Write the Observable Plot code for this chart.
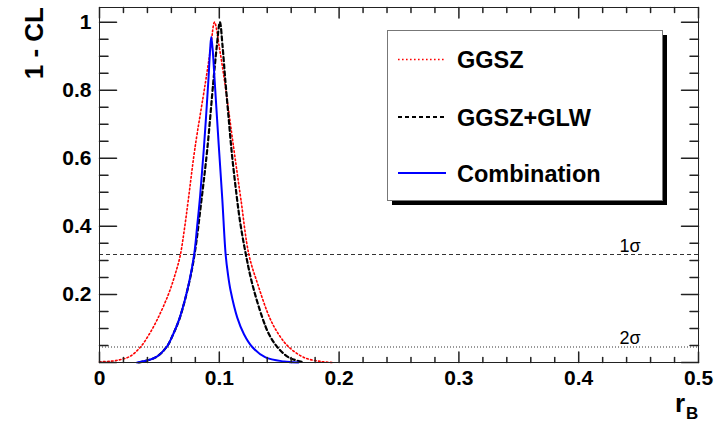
<!DOCTYPE html>
<html><head><meta charset="utf-8">
<script src="https://cdn.jsdelivr.net/npm/d3@7"></script>
<script src="https://cdn.jsdelivr.net/npm/@observablehq/plot@0.6"></script>
<style>body{margin:0;background:#fff;} svg{display:block}</style>
</head><body><div id="chart"></div>
<script>
// ---- data ----
const seriesNames = ["GGSZ", "GGSZ+GLW", "Combination"];

const ggszX = [0.000, 0.010, 0.018, 0.026, 0.0342, 0.0415, 0.049, 0.0575, 0.0628, 0.0673, 0.0708, 0.0742, 0.0796, 0.0885, 0.0927, 0.096,
               0.1002, 0.1045, 0.1121, 0.1180, 0.1247, 0.1320, 0.1420, 0.1495, 0.158, 0.1706, 0.1846, 0.195];
const ggszY = [0.002, 0.004, 0.009, 0.019, 0.0455, 0.083, 0.132, 0.20, 0.255, 0.313, 0.39, 0.48, 0.628, 0.824, 0.922, 1.0,
               0.922, 0.824, 0.628, 0.48, 0.317, 0.231, 0.132, 0.083, 0.0455, 0.015, 0.003, 0.0];

const glwX = [0.033, 0.0468, 0.056, 0.0615, 0.0671, 0.0746, 0.0793, 0.0852, 0.090, 0.095, 0.0977, 0.1005,
              0.1027, 0.1050, 0.1075, 0.1103, 0.1138, 0.1175, 0.1222, 0.1275, 0.1359, 0.1415, 0.1484, 0.158, 0.1706];
const glwY = [0.0, 0.015, 0.0455, 0.083, 0.132, 0.231, 0.317, 0.48, 0.628, 0.824, 0.922, 1.0,
              0.93, 0.83, 0.73, 0.62, 0.51, 0.41, 0.317, 0.231, 0.132, 0.083, 0.0455, 0.015, 0.0];

const combX = [0.0315, 0.0468, 0.056, 0.0615, 0.067, 0.0745, 0.0790, 0.0815, 0.0840, 0.0871, 0.0908, 0.0924, 0.0933,
               0.0944, 0.0962, 0.0995, 0.1025, 0.1053, 0.1072, 0.1095, 0.115, 0.1206, 0.1275, 0.1386, 0.154, 0.166];
const combY = [0.0, 0.015, 0.0455, 0.083, 0.132, 0.231, 0.317, 0.40, 0.49, 0.628, 0.824, 0.922, 0.956,
               0.922, 0.824, 0.64, 0.48, 0.317, 0.26, 0.21, 0.132, 0.083, 0.0455, 0.015, 0.003, 0.0];

const sigmaLevels = [0.3173, 0.0455];
const sigmaLabels = ["1σ", "2σ"];

const xMajorTicks = [0, 0.1, 0.2, 0.3, 0.4, 0.5];
const xMinorTicks = [0.02, 0.04, 0.06, 0.08, 0.12, 0.14, 0.16, 0.18, 0.22, 0.24, 0.26, 0.28,
                     0.32, 0.34, 0.36, 0.38, 0.42, 0.44, 0.46, 0.48];
const yMajorTicks = [0, 0.2, 0.4, 0.6, 0.8, 1];
const yMinorTicks = [0.05, 0.1, 0.15, 0.25, 0.3, 0.35, 0.45, 0.5, 0.55, 0.65, 0.7, 0.75, 0.85, 0.9, 0.95];
const yTickLabels = [0.2, 0.4, 0.6, 0.8, 1];

const xTitle = "r";
const xTitleSub = "B";
const yTitle = "1 - CL";

// ---- build tables ----
const toRows = (xs, ys) => xs.map((x, i) => ({x, y: ys[i]}));
const ggsz = toRows(ggszX, ggszY);
const glw = toRows(glwX, glwY);
const comb = toRows(combX, combY);
const sigmaRows = sigmaLevels.map((v, i) => ({y: v, label: sigmaLabels[i]}));

const FONT = "'Liberation Sans', Arial, Helvetica, sans-serif";
const tickShape = {draw(c, l) { c.moveTo(0, 0); c.lineTo(0, -l); }};
const fmt = d3.format("~g");
const axisColor = "#222";

const styles = {
  ggsz: {stroke: "#ff0000", strokeWidth: 1.6, strokeDasharray: "1.6,2.4"},
  glw: {stroke: "#000", strokeWidth: 2.2, strokeDasharray: "4,3"},
  comb: {stroke: "#0000ff", strokeWidth: 2}
};

const plot = Plot.plot({
  width: 723,
  height: 423,
  marginLeft: 99,
  marginRight: 25,
  marginTop: 7,
  marginBottom: 61,
  style: {fontFamily: FONT, background: "#fff", color: "#000"},
  x: {domain: [0, 0.5]},
  y: {domain: [0, 1.043]},
  marks: [
    Plot.ruleY([sigmaLevels[0]], {stroke: "#333", strokeWidth: 1, strokeDasharray: "4,3"}),
    Plot.ruleY([sigmaLevels[1]], {stroke: "#333", strokeWidth: 1, strokeDasharray: "1,2"}),
    Plot.text(sigmaRows, {x: 0.434, y: "y", text: "label", textAnchor: "start", lineAnchor: "bottom",
      dy: -3, fontSize: 18, fill: "#000"}),
    Plot.line(ggsz, {x: "x", y: "y", curve: "catmull-rom", ...styles.ggsz}),
    Plot.line(glw, {x: "x", y: "y", curve: "catmull-rom", ...styles.glw}),
    Plot.line(comb, {x: "x", y: "y", curve: "catmull-rom", ...styles.comb}),
    // inward ticks (ROOT style)
    Plot.vector(xMajorTicks, {x: d => d, frameAnchor: "bottom", length: 10.5, rotate: 0, anchor: "start", shape: tickShape, stroke: axisColor}),
    Plot.vector(xMinorTicks, {x: d => d, frameAnchor: "bottom", length: 5, rotate: 0, anchor: "start", shape: tickShape, stroke: axisColor}),
    Plot.vector(xMajorTicks, {x: d => d, frameAnchor: "top", length: 10.5, rotate: 180, anchor: "start", shape: tickShape, stroke: axisColor}),
    Plot.vector(xMinorTicks, {x: d => d, frameAnchor: "top", length: 5, rotate: 180, anchor: "start", shape: tickShape, stroke: axisColor}),
    Plot.vector(yMajorTicks, {y: d => d, frameAnchor: "left", length: 17, rotate: 90, anchor: "start", shape: tickShape, stroke: axisColor}),
    Plot.vector(yMinorTicks, {y: d => d, frameAnchor: "left", length: 8.5, rotate: 90, anchor: "start", shape: tickShape, stroke: axisColor}),
    Plot.vector(yMajorTicks, {y: d => d, frameAnchor: "right", length: 17, rotate: -90, anchor: "start", shape: tickShape, stroke: axisColor}),
    Plot.vector(yMinorTicks, {y: d => d, frameAnchor: "right", length: 8.5, rotate: -90, anchor: "start", shape: tickShape, stroke: axisColor}),
    Plot.axisX({ticks: xMajorTicks, tickSize: 0, tickPadding: 8, tickFormat: fmt, label: null,
      fontSize: 21, fontWeight: "bold", fill: "#000"}),
    Plot.axisY({ticks: yTickLabels, tickSize: 0, tickPadding: 8, tickFormat: fmt, label: null,
      fontSize: 21, fontWeight: "bold", fill: "#000"}),
    Plot.frame({stroke: axisColor, strokeWidth: 1})
  ]
});

// ---- axis titles and legend ----
const svg = d3.select(plot);
svg.append("text")
  .attr("transform", "translate(43,7) rotate(-90)")
  .attr("text-anchor", "end")
  .attr("font-family", FONT).attr("font-weight", "bold").attr("font-size", 26)
  .attr("fill", "#000").text(yTitle);
svg.append("text")
  .attr("x", 685).attr("y", 412).attr("text-anchor", "end")
  .attr("font-family", FONT).attr("font-weight", "bold").attr("font-size", 26)
  .attr("fill", "#000").text(xTitle);
svg.append("text")
  .attr("x", 686).attr("y", 419).attr("text-anchor", "start")
  .attr("font-family", FONT).attr("font-weight", "bold").attr("font-size", 17)
  .attr("fill", "#000").text(xTitleSub);

const lg = svg.append("g");
lg.append("rect").attr("x", 392).attr("y", 35).attr("width", 275).attr("height", 170).attr("fill", "#000");
lg.append("rect").attr("x", 387.5).attr("y", 30.5).attr("width", 275).attr("height", 170)
  .attr("fill", "#fff").attr("stroke", "#777").attr("stroke-width", 1);
const legendStyles = [styles.ggsz, styles.glw, styles.comb];
const rowY = [59.5, 117, 173];
seriesNames.forEach((name, i) => {
  const s = legendStyles[i];
  lg.append("line").attr("x1", 398).attr("x2", 446).attr("y1", rowY[i]).attr("y2", rowY[i])
    .attr("stroke", s.stroke).attr("stroke-width", Math.min(s.strokeWidth, 2))
    .attr("stroke-dasharray", s.strokeDasharray || null);
  lg.append("text").attr("x", 457).attr("y", rowY[i] + 8.5).attr("text-anchor", "start")
    .attr("font-family", FONT).attr("font-weight", "bold").attr("font-size", 23.5)
    .attr("fill", "#000").text(name);
});

document.getElementById("chart").appendChild(plot);
</script>
</body></html>
